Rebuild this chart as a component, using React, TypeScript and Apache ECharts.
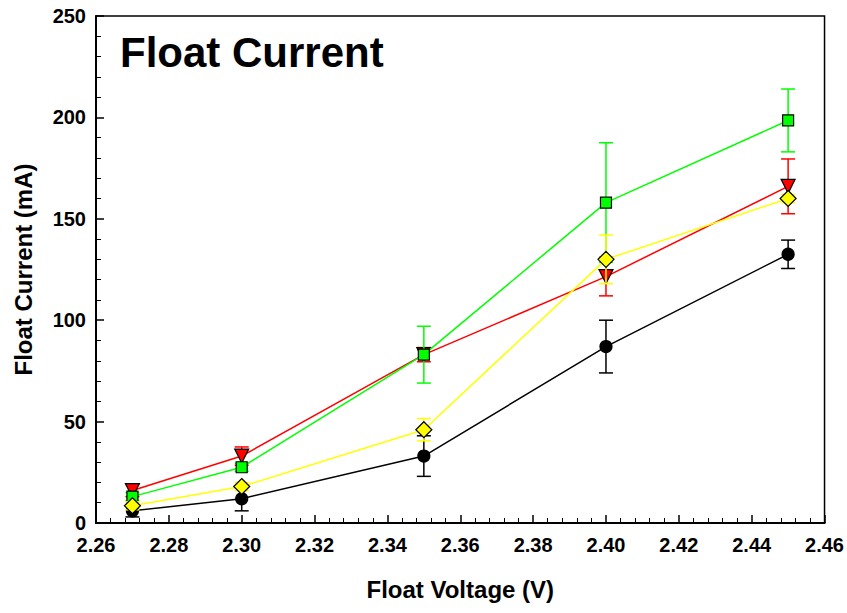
import React, { useEffect, useRef } from "react";
import * as echarts from "echarts";

const voltages = [2.27, 2.3, 2.35, 2.4, 2.45];
const blackVals = [6, 12, 33, 87, 132.5];
const blackErr = [3, 6, 10, 13, 7];
const redVals = [16, 33, 83, 121.5, 166];
const redErr = [3, 4.5, 3.5, 9.5, 13.5];
const greenVals = [13, 27.5, 83, 158, 198.5];
const greenErr = [2, 2, 14, 29.5, 15.5];
const yellowVals = [8.5, 18, 46, 130, 160];
const yellowErr = [2, 2, 5.5, 12, 2];

const FONT = "'Liberation Sans', Arial, sans-serif";

function pts(vals: number[]) {
  return voltages.map((x, i) => [x, vals[i]]);
}
function errData(vals: number[], errs: number[]) {
  return voltages.map((x, i) => [x, vals[i] - errs[i], vals[i] + errs[i]]);
}

function errSeries(vals: number[], errs: number[], color: string, z: number) {
  return {
    type: "custom",
    z,
    silent: true,
    data: errData(vals, errs),
    renderItem: (params: any, api: any) => {
      const x = api.value(0);
      const lo = api.coord([x, api.value(1)]);
      const hi = api.coord([x, api.value(2)]);
      const hw = 7;
      const style = { stroke: color, lineWidth: 1.5, fill: "none" };
      return {
        type: "group",
        children: [
          { type: "line", shape: { x1: lo[0], y1: lo[1], x2: hi[0], y2: hi[1] }, style },
          { type: "line", shape: { x1: lo[0] - hw, y1: lo[1], x2: lo[0] + hw, y2: lo[1] }, style },
          { type: "line", shape: { x1: hi[0] - hw, y1: hi[1], x2: hi[0] + hw, y2: hi[1] }, style },
        ],
      };
    },
  };
}

function lineSeries(vals: number[], color: string, symbol: string, size: number, z: number, rotate = 0) {
  return {
    type: "line",
    z,
    data: pts(vals),
    symbol,
    symbolSize: size,
    symbolRotate: rotate,
    showAllSymbol: true,
    lineStyle: { color, width: 1.5 },
    itemStyle: { color, borderColor: "#000", borderWidth: 1.2, opacity: 1 },
  };
}

export default function App() {
  const ref = useRef<HTMLDivElement>(null);
  useEffect(() => {
    if (!ref.current) return;
    const chart = echarts.init(ref.current, null, { renderer: "svg" });
    chart.setOption({
      animation: false,
      backgroundColor: "#fff",
      title: {
        text: "Float Current",
        left: 115,
        top: 26,
        textStyle: { fontFamily: FONT, fontSize: 42, fontWeight: "bold", color: "#000" },
      },
      grid: {
        left: 96,
        right: 22,
        top: 16,
        bottom: 90,
        show: true,
        borderColor: "#000",
        borderWidth: 1.5,
        backgroundColor: "transparent",
      },
      xAxis: {
        type: "value",
        min: 2.26,
        max: 2.46,
        interval: 0.02,
        name: "Float Voltage (V)",
        nameLocation: "middle",
        nameGap: 54,
        nameTextStyle: { fontFamily: FONT, fontSize: 24, fontWeight: "bold", color: "#000" },
        axisLine: { show: true, lineStyle: { color: "#000", width: 2 } },
        axisTick: { show: true, inside: true, length: 8, lineStyle: { color: "#000", width: 1.5 } },
        minorTick: { show: true, splitNumber: 5, length: 5, lineStyle: { color: "#000", width: 1 } },
        splitLine: { show: false },
        axisLabel: {
          fontFamily: FONT,
          fontSize: 20,
          fontWeight: "bold",
          color: "#000",
          margin: 12,
          formatter: (v: number) => v.toFixed(2),
        },
      },
      yAxis: {
        type: "value",
        min: 0,
        max: 250,
        interval: 50,
        name: "Float Current (mA)",
        nameLocation: "middle",
        nameGap: 61,
        nameTextStyle: { fontFamily: FONT, fontSize: 24, fontWeight: "bold", color: "#000" },
        axisLine: { show: true, lineStyle: { color: "#000", width: 2 } },
        axisTick: { show: true, inside: true, length: 8, lineStyle: { color: "#000", width: 1.5 } },
        minorTick: { show: true, splitNumber: 5, length: 5, lineStyle: { color: "#000", width: 1 } },
        splitLine: { show: false },
        axisLabel: {
          fontFamily: FONT,
          fontSize: 20,
          fontWeight: "bold",
          color: "#000",
          margin: 10,
        },
      },
      series: [
        errSeries(blackVals, blackErr, "#000000", 2),
        lineSeries(blackVals, "#000000", "circle", 12, 3),
        errSeries(redVals, redErr, "#ff0000", 4),
        lineSeries(redVals, "#ff0000", "triangle", 14, 5, 180),
        errSeries(greenVals, greenErr, "#00ff00", 6),
        lineSeries(greenVals, "#00ff00", "rect", 11, 7),
        errSeries(yellowVals, yellowErr, "#ffff00", 8),
        lineSeries(yellowVals, "#ffff00", "diamond", 16, 9),
      ],
    });
    return () => chart.dispose();
  }, []);
  return <div ref={ref} style={{ width: 847, height: 613, position: "absolute", left: 0, top: 0 }} />;
}
